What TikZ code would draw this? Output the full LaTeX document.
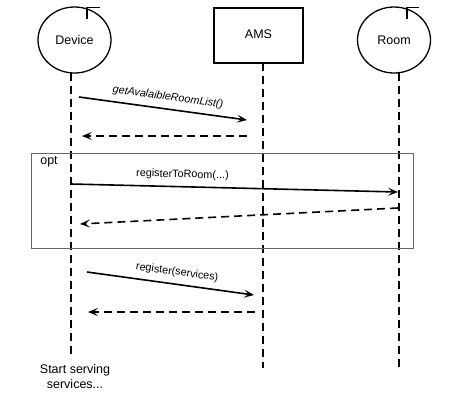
\documentclass[tikz,border=0pt]{standalone}
\usepackage{fontspec}
\setmainfont{Liberation Sans}
\usetikzlibrary{arrows.meta,shapes.geometric}
\begin{document}
\begin{tikzpicture}[x=1pt,y=-1pt,
  actor/.style={draw,line width=1.3pt,ellipse,minimum width=73pt,minimum height=66pt,inner sep=0pt,font=\fontsize{12.5}{14}\selectfont},
  boxactor/.style={draw,line width=1.3pt,rectangle,minimum width=89pt,minimum height=55pt,inner sep=0pt,font=\fontsize{12.5}{14}\selectfont},
  flag/.style={line width=1.3pt},
  lifeline/.style={line width=1.6pt,dash pattern=on 8pt off 5pt},
  msg/.style={line width=1.6pt,-{Stealth[length=10pt,width=8pt,inset=4.5pt]}},
  ret/.style={msg,dash pattern=on 8pt off 5pt},
  mlabel/.style={font=\fontsize{10.8}{12}\selectfont,sloped,above=6pt,inner sep=0pt},
  frame/.style={draw=black!60,line width=1pt}
]
\useasboundingbox (0,0) rectangle (458,408);
\draw[white] (0,0) rectangle (458,408);
% actors
\node[actor] (dev) at (74.5,40) {Device};
\node[boxactor] (ams) at (258.5,35.5) {\raisebox{3pt}{AMS}};
\node[actor] (room) at (394,40) {Room};
% flags
\coordinate (devf1) at (87,7.5);
\coordinate (devf2) at (87,19);
\coordinate (devf3) at (99.5,7.5);
\draw[flag] (devf2) -- (devf1) -- (devf3);
\coordinate (roomf1) at (407,7.5);
\coordinate (roomf2) at (407,19);
\coordinate (roomf3) at (418.5,7.5);
\draw[flag] (roomf2) -- (roomf1) -- (roomf3);
% lifelines
\coordinate (devtop) at (71,73);
\coordinate (devbot) at (71,359);
\coordinate (amstop) at (263,63);
\coordinate (amsbot) at (263,368);
\coordinate (roomtop) at (399,73);
\coordinate (roombot) at (399,368);
\draw[lifeline] (devtop) -- (devbot);
\draw[lifeline] (amstop) -- (amsbot);
\draw[lifeline] (roomtop) -- (roombot);
% opt frame
\node[frame,minimum width=382pt,minimum height=95pt,inner sep=0pt] (opt) at (222,200.5) {};
\node[font=\fontsize{12.5}{14}\selectfont,inner sep=0pt] (optl) at (49,162) {opt};
% messages
\coordinate (m1a) at (79,97);
\coordinate (m1b) at (247,120);
\draw[msg] (m1a) -- node[mlabel,pos=0.52,font=\fontsize{10.8}{12}\selectfont\itshape] (l1) {getAvalaibleRoomList()} (m1b);
\coordinate (r1a) at (247,136);
\coordinate (r1b) at (82,136);
\draw[ret] (r1a) -- (r1b);
\coordinate (m2a) at (71,184);
\coordinate (m2b) at (398,192);
\draw[msg] (m2a) -- node[mlabel,pos=0.34] (l2) {registerToRoom(...)} (m2b);
\coordinate (r2a) at (398,208);
\coordinate (r2b) at (80,224);
\draw[ret] (r2a) -- (r2b);
\coordinate (m3a) at (87,272);
\coordinate (m3b) at (254,295);
\draw[msg] (m3a) -- node[mlabel,pos=0.53] (l3) {register(services)} (m3b);
\coordinate (r3a) at (255,312);
\coordinate (r3b) at (88,312);
\draw[ret] (r3a) -- (r3b);
% end text
\node[font=\fontsize{12.5}{15}\selectfont,align=center,inner sep=0pt] (start) at (75,376.5) {Start serving\\services...};
\end{tikzpicture}
\end{document}
